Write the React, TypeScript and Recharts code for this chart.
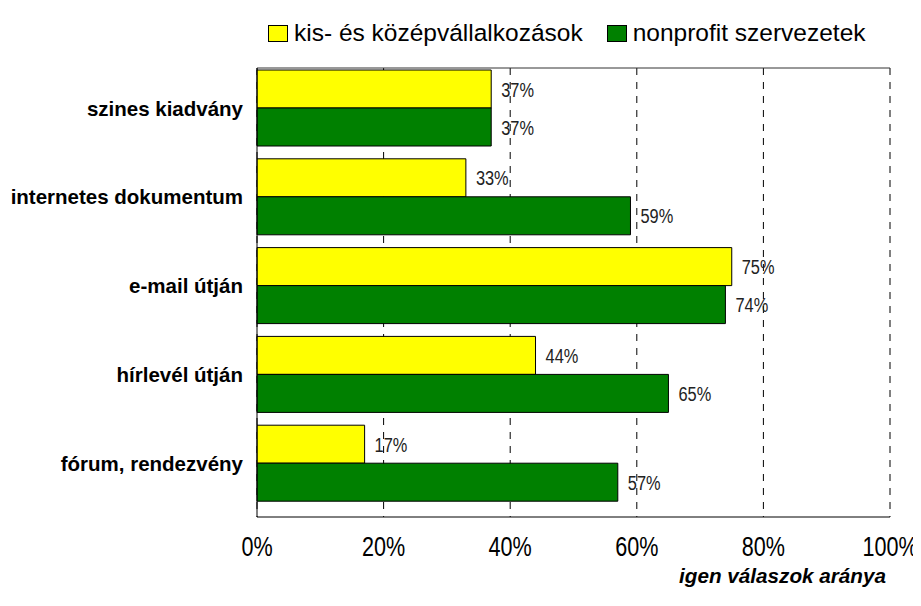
import { Bar, BarChart, CartesianGrid, LabelList, Legend, ReferenceLine, XAxis, YAxis } from 'recharts';

const categories = ['szines kiadvány', 'internetes dokumentum', 'e-mail útján', 'hírlevél útján', 'fórum, rendezvény'];
const smeValues = [37, 33, 75, 44, 17];
const nonprofitValues = [37, 59, 74, 65, 57];
const xTicks = [0, 20, 40, 60, 80, 100];

const chartData = categories.map((name, i) => ({
  name,
  sme: smeValues[i],
  nonprofit: nonprofitValues[i],
}));

const sans = '"Liberation Sans", Arial, sans-serif';

const legendItems = [
  { label: 'kis- és középvállalkozások', color: '#ffff00' },
  { label: 'nonprofit szervezetek', color: '#008000' },
];

function LegendContent() {
  return (
    <div style={{ height: 40, display: 'flex', alignItems: 'center', fontFamily: sans, fontSize: 24.5, color: '#000', whiteSpace: 'nowrap' }}>
      {legendItems.map((item, i) => (
        <div key={item.label} style={{ display: 'flex', alignItems: 'center', marginLeft: i === 0 ? 0 : 24 }}>
          <span style={{ width: 18, height: 15, background: item.color, border: '1px solid #000', marginRight: 6, display: 'inline-block' }} />
          <span>{item.label}</span>
        </div>
      ))}
    </div>
  );
}

// narrow-looking tick text (the original uses a condensed font)
function XTick({ x, y, payload }: any) {
  return (
    <text transform={`translate(${x},${y + 31}) scale(0.8,1)`} textAnchor="middle" fontFamily={sans} fontSize={27} fill="#000">
      {`${payload.value}%`}
    </text>
  );
}

function ValueLabel({ x, y, width, height, value }: any) {
  return (
    <text
      transform={`translate(${x + width + 10},${y + height / 2 + 7.5}) scale(0.78,1)`}
      fontFamily={sans}
      fontSize={21}
      fill="#222"
    >
      {`${value}%`}
    </text>
  );
}

export default function App() {
  return (
    <div style={{ margin: -8, width: 921, height: 606, background: '#fff' }}>
      <BarChart
        width={921}
        height={606}
        data={chartData}
        layout="vertical"
        margin={{ top: 27, right: 31, bottom: 19, left: 0 }}
        barCategoryGap={6}
        barGap={0}
      >
        <CartesianGrid horizontal={false} stroke="#000" strokeDasharray="7 7" />
        <XAxis
          type="number"
          domain={[0, 100]}
          ticks={xTicks}
          tick={<XTick />}
          tickLine={false}
          axisLine={{ stroke: '#000' }}
          height={70}
          label={{
            content: ({ viewBox }: any) => (
              <text
                x={viewBox.x + viewBox.width - 4}
                y={viewBox.y + 66}
                textAnchor="end"
                fontFamily={sans}
                fontSize={20.7}
                fontWeight="bold"
                fontStyle="italic"
                fill="#000"
              >
                igen válaszok aránya
              </text>
            ),
          }}
        />
        <XAxis xAxisId="frame" orientation="top" type="number" domain={[0, 100]} tick={false} tickLine={false} height={1} axisLine={{ stroke: '#333' }} />
        <YAxis
          type="category"
          dataKey="name"
          width={257}
          tickLine={false}
          axisLine={{ stroke: '#000' }}
          padding={{ top: -4, bottom: 9 }}
          tick={{ fill: '#000', fontSize: 20.5, fontWeight: 'bold', fontFamily: sans }}
          tickMargin={8}
        />
        <ReferenceLine xAxisId="frame" x={100} stroke="#333" strokeWidth={1} strokeDasharray="0" ifOverflow="visible" />
        <Legend verticalAlign="top" wrapperStyle={{ top: 13, left: 268, width: 'auto' }} content={<LegendContent />} />
        <Bar dataKey="sme" fill="#ffff00" stroke="#000" strokeWidth={1} isAnimationActive={false}>
          <LabelList dataKey="sme" content={<ValueLabel />} />
        </Bar>
        <Bar dataKey="nonprofit" fill="#008000" stroke="#000" strokeWidth={1} isAnimationActive={false}>
          <LabelList dataKey="nonprofit" content={<ValueLabel />} />
        </Bar>
      </BarChart>
    </div>
  );
}
